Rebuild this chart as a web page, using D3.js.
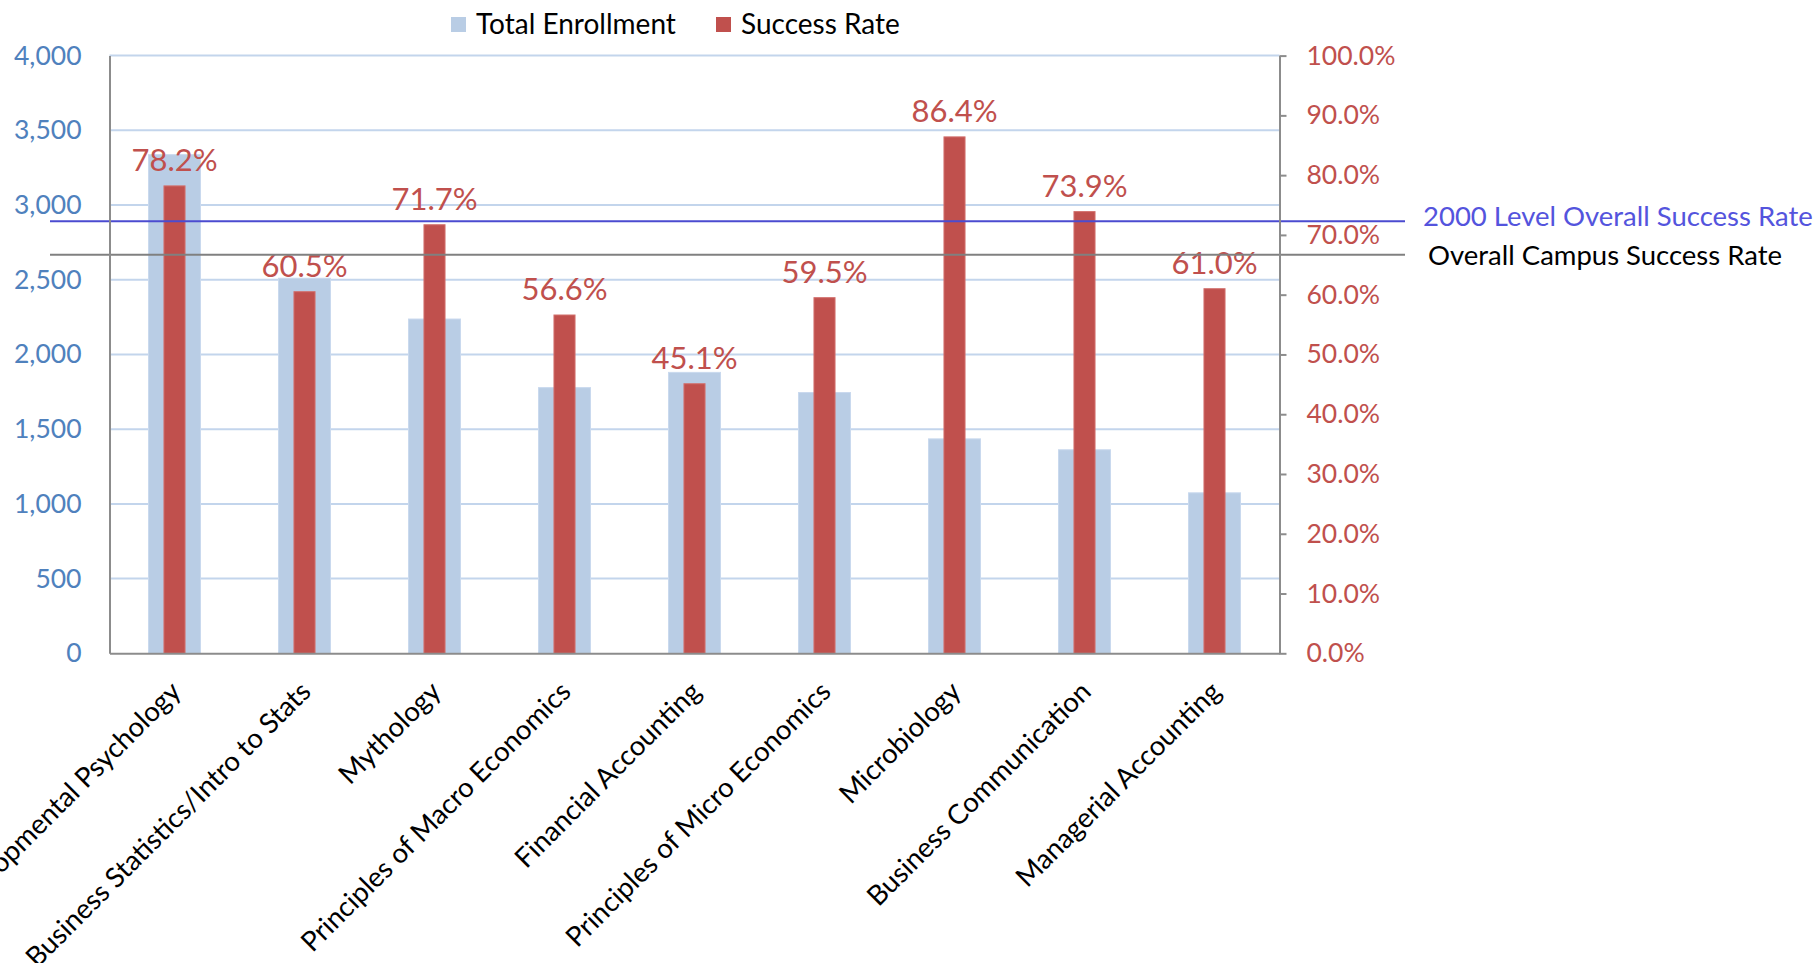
<!DOCTYPE html>
<html>
<head>
<meta charset="utf-8">
<script src="https://cdn.jsdelivr.net/npm/d3@7"></script>
<style>
  body { margin: 0; background: #fff; }
  text { font-family: Lato, "Open Sans", sans-serif; }
</style>
</head>
<body>
<div id="chart"></div>
<script>
// chart values
let categories = [
    "Developmental Psychology",
    "Business Statistics/Intro to Stats",
    "Mythology",
    "Principles of Macro Economics",
    "Financial Accounting",
    "Principles of Micro Economics",
    "Microbiology",
    "Business Communication",
    "Managerial Accounting"
];
let enrollment = [3337, 2510, 2237, 1778, 1880, 1745, 1435, 1362, 1074];
let successRate = [78.2, 60.5, 71.7, 56.6, 45.1, 59.5, 86.4, 73.9, 61.0];
let leftTicks = [0, 500, 1000, 1500, 2000, 2500, 3000, 3500, 4000];
let rightTicks = [0, 10, 20, 30, 40, 50, 60, 70, 80, 90, 100];
let refNames = ["2000 Level Overall Success Rate", "Overall Campus Success Rate"];
let refRates = [72.3, 66.7];
let seriesNames = ["Total Enrollment", "Success Rate"];

let width = 1818, height = 963;
let plotLeft = 109.5, plotRight = 1279.5, plotTop = 55.6, plotBottom = 653.3;

let blueFill = '#b9cde5', redFill = '#c0504d';
let refColors = ['#4b4bd0', '#808080'];
let refTextColors = ['#5454dd', '#000000'];

let svg = d3.select('#chart')
    .append('svg')
    .attr('width', width).attr('height', height);

let x = d3.scaleBand().domain(categories).range([plotLeft, plotRight]).padding(0);
let yLeft = d3.scaleLinear().domain([0, 4000]).range([plotBottom, plotTop]);
let yRight = d3.scaleLinear().domain([0, 100]).range([plotBottom, plotTop]);
let bw = x.bandwidth();

// gridlines
svg.append('g')
    .selectAll('line')
    .data(leftTicks.slice(1))
    .enter()
    .append('line')
    .attr('x1', plotLeft).attr('x2', plotRight)
    .attr('y1', d => yLeft(d)).attr('y2', d => yLeft(d))
    .attr('stroke', '#c3d5ec').attr('stroke-width', 2);

// enrollment bars
svg.append('g')
    .selectAll('rect')
    .data(enrollment)
    .enter()
    .append('rect')
    .attr('x', (d, i) => x(categories[i]) + bw / 2 - bw * 0.2)
    .attr('width', bw * 0.4)
    .attr('y', d => yLeft(d))
    .attr('height', d => plotBottom - yLeft(d))
    .attr('fill', blueFill)
    .attr('stroke', '#c9d9ee').attr('stroke-width', 1);

// success rate bars
svg.append('g')
    .selectAll('rect')
    .data(successRate)
    .enter()
    .append('rect')
    .attr('x', (d, i) => x(categories[i]) + bw / 2 - bw * 0.081)
    .attr('width', bw * 0.162)
    .attr('y', d => yRight(d))
    .attr('height', d => plotBottom - yRight(d))
    .attr('fill', redFill)
    .attr('stroke', '#d2706d').attr('stroke-width', 1);

// data labels
svg.append('g')
    .selectAll('text')
    .data(successRate)
    .enter()
    .append('text')
    .attr('x', (d, i) => x(categories[i]) + bw / 2)
    .attr('y', d => yRight(d) - 15)
    .attr('text-anchor', 'middle')
    .attr('font-size', 31)
    .attr('fill', '#c0504d')
    .text(d => d.toFixed(1) + '%');

// reference lines
refRates.forEach((r, i) => {
    svg.append('line')
        .attr('x1', 50).attr('x2', 1405)
        .attr('y1', yRight(r)).attr('y2', yRight(r))
        .attr('stroke', refColors[i]).attr('stroke-width', 2);
});
svg.append('text')
    .attr('x', 1423).attr('y', yRight(refRates[0]) + 5)
    .attr('font-size', 27.5).attr('fill', refTextColors[0])
    .text(refNames[0]);
svg.append('text')
    .attr('x', 1428).attr('y', yRight(refRates[1]) + 10)
    .attr('font-size', 27.5).attr('fill', refTextColors[1])
    .text(refNames[1]);

// left axis
let leftAxis = svg.append('g')
    .attr('transform', 'translate(' + plotLeft + ',0)')
    .call(d3.axisLeft(yLeft).tickValues(leftTicks).tickSize(0).tickPadding(28)
        .tickFormat(d3.format(',')));
leftAxis.select('.domain').attr('stroke', '#8c8c8c').attr('stroke-width', 2);
leftAxis.selectAll('text')
    .attr('font-family', 'Lato').attr('font-size', 26.5).attr('fill', '#4f81bd');

// right axis
let rightAxis = svg.append('g')
    .attr('transform', 'translate(' + plotRight + ',0)')
    .call(d3.axisRight(yRight).tickValues(rightTicks).tickSizeInner(7).tickSizeOuter(0).tickPadding(20)
        .tickFormat(d => d.toFixed(1) + '%'));
rightAxis.select('.domain').attr('stroke', '#8c8c8c').attr('stroke-width', 2);
rightAxis.selectAll('line').attr('stroke', '#8c8c8c').attr('stroke-width', 2);
rightAxis.selectAll('text')
    .attr('font-family', 'Lato').attr('font-size', 26.5).attr('fill', '#c0504d');

// bottom axis
let bottomAxis = svg.append('g')
    .attr('transform', 'translate(0,' + plotBottom + ')')
    .call(d3.axisBottom(x).tickSize(0).tickPadding(0));
bottomAxis.select('.domain').attr('stroke', '#8c8c8c').attr('stroke-width', 2);
bottomAxis.selectAll('text')
    .attr('font-family', 'Lato').attr('font-size', 27.5).attr('fill', '#000')
    .attr('text-anchor', 'end')
    .attr('dy', 0)
    .attr('transform', 'translate(8,40) rotate(-45)');

// legend
let legend = svg.append('g');
let legendX = [451, 716];
let legendColors = [blueFill, redFill];
seriesNames.forEach((name, i) => {
    legend.append('rect')
        .attr('x', legendX[i]).attr('y', 17)
        .attr('width', 15).attr('height', 15)
        .attr('fill', legendColors[i]);
    legend.append('text')
        .attr('x', legendX[i] + 25).attr('y', 34)
        .attr('font-size', 28).attr('fill', '#000')
        .text(name);
});
</script>
</body>
</html>
